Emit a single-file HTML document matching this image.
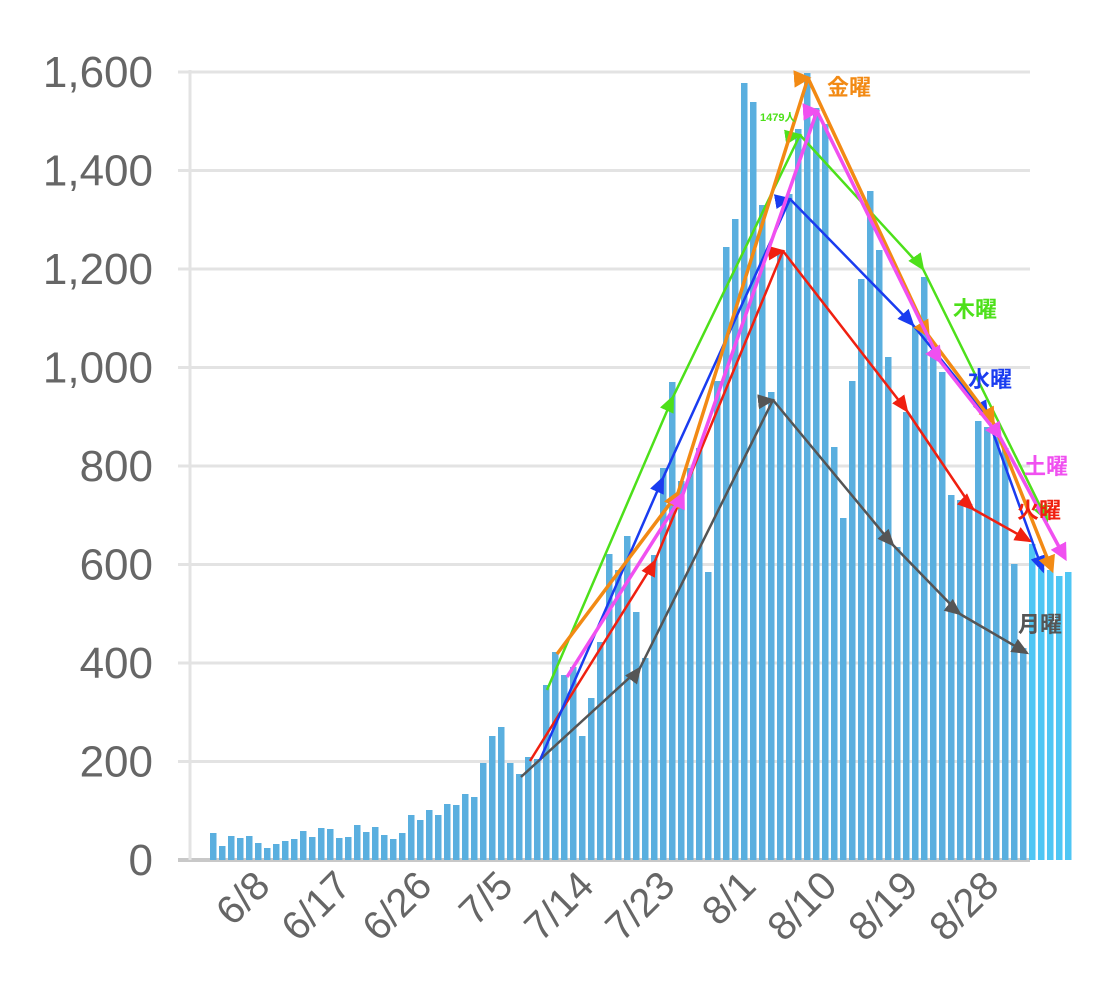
<!DOCTYPE html>
<html><head><meta charset="utf-8"><style>
html,body{margin:0;padding:0;background:#fff;width:1111px;height:984px;overflow:hidden}
</style></head><body>
<svg id="c" width="1111" height="984" xmlns="http://www.w3.org/2000/svg" font-family="Liberation Sans, Noto Sans CJK JP, sans-serif">
<defs>
<marker id="mG" markerWidth="7" markerHeight="6" refX="6" refY="3" orient="auto" markerUnits="strokeWidth"><path d="M0,0L7,3L0,6z" fill="#555"/></marker>
<marker id="mR" markerWidth="7" markerHeight="6" refX="6" refY="3" orient="auto" markerUnits="strokeWidth"><path d="M0,0L7,3L0,6z" fill="#f02010"/></marker>
<marker id="mB" markerWidth="7" markerHeight="6" refX="6" refY="3" orient="auto" markerUnits="strokeWidth"><path d="M0,0L7,3L0,6z" fill="#1a3cf0"/></marker>
<marker id="mN" markerWidth="7" markerHeight="6" refX="6" refY="3" orient="auto" markerUnits="strokeWidth"><path d="M0,0L7,3L0,6z" fill="#4de01a"/></marker>
<marker id="mO" markerWidth="5" markerHeight="5" refX="4" refY="2.5" orient="auto" markerUnits="strokeWidth"><path d="M0,0L5,2.5L0,5z" fill="#f28a14"/></marker>
<marker id="mM" markerWidth="5" markerHeight="5" refX="4" refY="2.5" orient="auto" markerUnits="strokeWidth"><path d="M0,0L5,2.5L0,5z" fill="#f050f0"/></marker>
</defs>
<g id="grid"></g>
<g id="bars"></g>
<g fill="none" stroke-linejoin="round">
<polyline points="521,777 640,668 773,400 893,545 960,614 1027,653" stroke="#555" stroke-width="2.5" marker-mid="url(#mG)" marker-end="url(#mG)"/>
<polyline points="530,761 655,561 783,251 907,411 973,509 1030,541" stroke="#f02010" stroke-width="2.5" marker-mid="url(#mR)" marker-end="url(#mR)"/>
<polyline points="540,760 663,478 790,199 913,325 987,416 1043,571" stroke="#1a3cf0" stroke-width="2.5" marker-mid="url(#mB)" marker-end="url(#mB)"/>
<polyline points="547,690 673,397 800,135 923,269 1047,520" stroke="#4de01a" stroke-width="2.5" marker-mid="url(#mN)" marker-end="url(#mN)"/>
<polyline points="557,654 678,493 808,78 928,335 993,422 1052,570" stroke="#f28a14" stroke-width="3.5" marker-mid="url(#mO)" marker-end="url(#mO)"/>
<polyline points="567,677 683,494 817,111 940,361 1000,437 1065,558" stroke="#f050f0" stroke-width="3.5" marker-mid="url(#mM)" marker-end="url(#mM)"/>
</g>
<g font-weight="bold" font-size="22">
<text x="827" y="95" fill="#f28a14">金曜</text>
<text x="953" y="317" fill="#4de01a">木曜</text>
<text x="968" y="387" fill="#1a3cf0">水曜</text>
<text x="1024" y="474" fill="#f050f0">土曜</text>
<text x="1017" y="518" fill="#f02010">火曜</text>
<text x="1018" y="632" fill="#555">月曜</text>
<text x="760" y="121" fill="#4de01a" font-size="11">1479人</text>
</g>
<g id="labels" font-size="44" fill="#666"></g>
</svg>
<script>
var NS="http://www.w3.org/2000/svg";
function el(p,t,a,txt){var e=document.createElementNS(NS,t);for(var k in a)e.setAttribute(k,a[k]);if(txt)e.textContent=txt;p.appendChild(e);return e;}
var g=document.getElementById('grid'),b=document.getElementById('bars'),L=document.getElementById('labels');
var vals=["0","200","400","600","800","1,000","1,200","1,400","1,600"];
for(var i=0;i<9;i++){var y=860-i*98.5;
 el(g,'line',{x1:178,x2:1030,y1:y,y2:y,stroke:i==0?'#c8c8c8':'#e3e3e3','stroke-width':i==0?4:3});
 el(L,'text',{x:153,y:y+15,'text-anchor':'end'},vals[i]);}
el(g,'line',{x1:190,x2:190,y1:70,y2:860,stroke:'#e3e3e3','stroke-width':3});
var tops=[833,846,836,838,836,843,848,844,841,839,831,837,828,829,838,837,825,832,827,835,839,833,815,820,810,815,804,805,794,797,763,736,727,763,774,757,759,
685,652,675,667,736,698,642,554,570,536,612,658,555,468,382,481,468,448,572,381,247,219,83,102,205,392,
250,194,129,73,108,124,447,518,381,279,191,250,357,547,412,326,277,350,372,495,500,504,421,427,437,448,564,648,544,568,570,576,572];
for(var n=0;n<tops.length;n++){var x=210+n*9.0;
 el(b,'rect',{x:x,y:tops[n],width:6.5,height:860-tops[n],fill:n>=91?'#4fc6f4':'#5aafdf'});}
var dl=["6/8","6/17","6/26","7/5","7/14","7/23","8/1","8/10","8/19","8/28"];
for(var j=0;j<dl.length;j++){var x=272+j*81,y=888;
 el(L,'text',{x:x,y:y,'text-anchor':'end',transform:'rotate(-45 '+x+' '+y+')','font-size':40},dl[j]);}
</script>
</body></html>
